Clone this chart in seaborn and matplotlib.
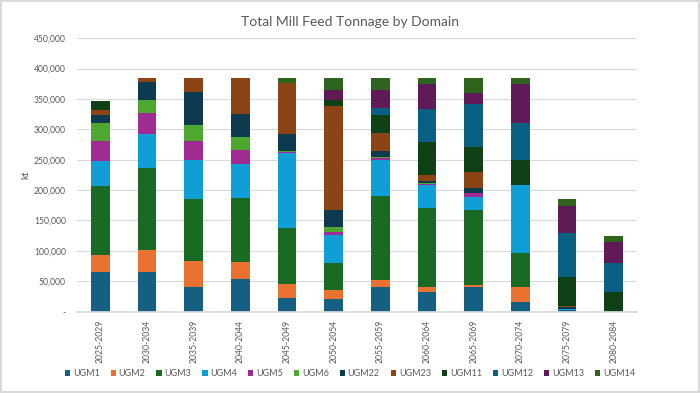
import numpy as np
import pandas as pd
import matplotlib
matplotlib.use("Agg")
import matplotlib.pyplot as plt
import seaborn as sns
from matplotlib.patches import Patch
from matplotlib.ticker import FuncFormatter

periods = ["2025-2029", "2030-2034", "2035-2039", "2040-2044", "2045-2049", "2050-2054",
           "2055-2059", "2060-2064", "2065-2069", "2070-2074", "2075-2079", "2080-2084"]
series = ["UGM1", "UGM2", "UGM3", "UGM4", "UGM5", "UGM6",
          "UGM22", "UGM23", "UGM11", "UGM12", "UGM13", "UGM14"]
colors = ["#156082", "#E97132", "#196B24", "#0F9ED5", "#A02B93", "#4EA72E",
          "#0D3A4F", "#8C4414", "#0F4016", "#0B5F82", "#601A58", "#2F641C"]

# values in kt per period (thousands)
UGM1  = [66, 66, 41, 54, 23, 21, 40, 32, 40, 16, 2, 0]
UGM2  = [27, 36, 43, 27, 23, 14, 12, 9, 4, 25, 0, 0]
UGM3  = [114, 135, 102, 106, 91, 45, 138, 129, 124, 56, 0, 0]
UGM4  = [41, 56, 63, 56, 124, 46, 60, 38, 20, 111, 3, 0]
UGM5  = [32, 33, 32, 23, 2, 5, 2, 2, 7, 0, 0, 0]
UGM6  = [31, 23, 26, 22, 2, 8, 3, 2, 0, 0, 0, 0]
UGM22 = [13, 28, 55, 37, 28, 29, 10, 3, 8, 0, 2, 0]
UGM23 = [7, 7, 22, 59, 83, 170, 29, 10, 27, 0, 3, 0]
UGM11 = [15, 0, 0, 0, 0, 11, 29, 54, 41, 42, 47, 33]
UGM12 = [0, 0, 0, 0, 0, 0, 12, 55, 71, 60, 72, 47]
UGM13 = [0, 0, 0, 0, 0, 15, 29, 40, 18, 64, 44, 35]
UGM14 = [0, 0, 0, 0, 8, 20, 20, 10, 24, 10, 12, 9]

values = [UGM1, UGM2, UGM3, UGM4, UGM5, UGM6, UGM22, UGM23, UGM11, UGM12, UGM13, UGM14]

df = pd.DataFrame({s: np.array(v) * 1000 for s, v in zip(series, values)}, index=periods)
cum = df.cumsum(axis=1)

sns.set_theme(style="white")
plt.rcParams['font.family'] = ['Lato', 'DejaVu Sans']

fig = plt.figure(figsize=(7, 3.93), dpi=100)
fig.patch.set_edgecolor("#d9d9d9")
fig.patch.set_linewidth(1.5)
ax = fig.add_axes([0.11, 0.207, 0.80, 0.696])

for i in reversed(range(len(series))):
    sns.barplot(x=periods, y=cum[series[i]].values, color=colors[i], width=0.4,
                saturation=1, ax=ax, edgecolor="none", linewidth=0)

ax.set_ylim(0, 450000)
ax.set_yticks(np.arange(0, 450001, 50000))
ax.yaxis.set_major_formatter(FuncFormatter(lambda v, p: "-" if v == 0 else f"{int(v):,}"))
ax.grid(axis="y", color="#d9d9d9", linewidth=0.8)
ax.set_axisbelow(True)
for s in ["top", "right", "left"]:
    ax.spines[s].set_visible(False)
ax.spines["bottom"].set_color("#d9d9d9")
ax.tick_params(axis="both", length=0, labelsize=6.2, labelcolor="#595959")
ax.tick_params(axis="y", pad=8)
ax.tick_params(axis="x", rotation=90, pad=6)
ax.set_ylabel("kt", fontsize=7, color="#595959")
ax.yaxis.set_label_coords(-0.084, 0.5)
ax.set_xlabel("")
ax.set_xlim(-0.5, len(periods) - 0.5)

fig.text(0.5, 0.945, "Total Mill Feed Tonnage by Domain", ha="center", va="center",
         fontsize=10, color="#595959")

handles = [Patch(facecolor=c, edgecolor="none", label=s) for s, c in zip(series, colors)]
fig.legend(handles=handles, loc="center", bbox_to_anchor=(0.5, 0.05), ncol=12,
           frameon=False, fontsize=6.5, handlelength=0.6, handleheight=0.6,
           handletextpad=0.3, columnspacing=1.2, labelcolor="#595959")

fig.savefig("out.png", dpi=100)
